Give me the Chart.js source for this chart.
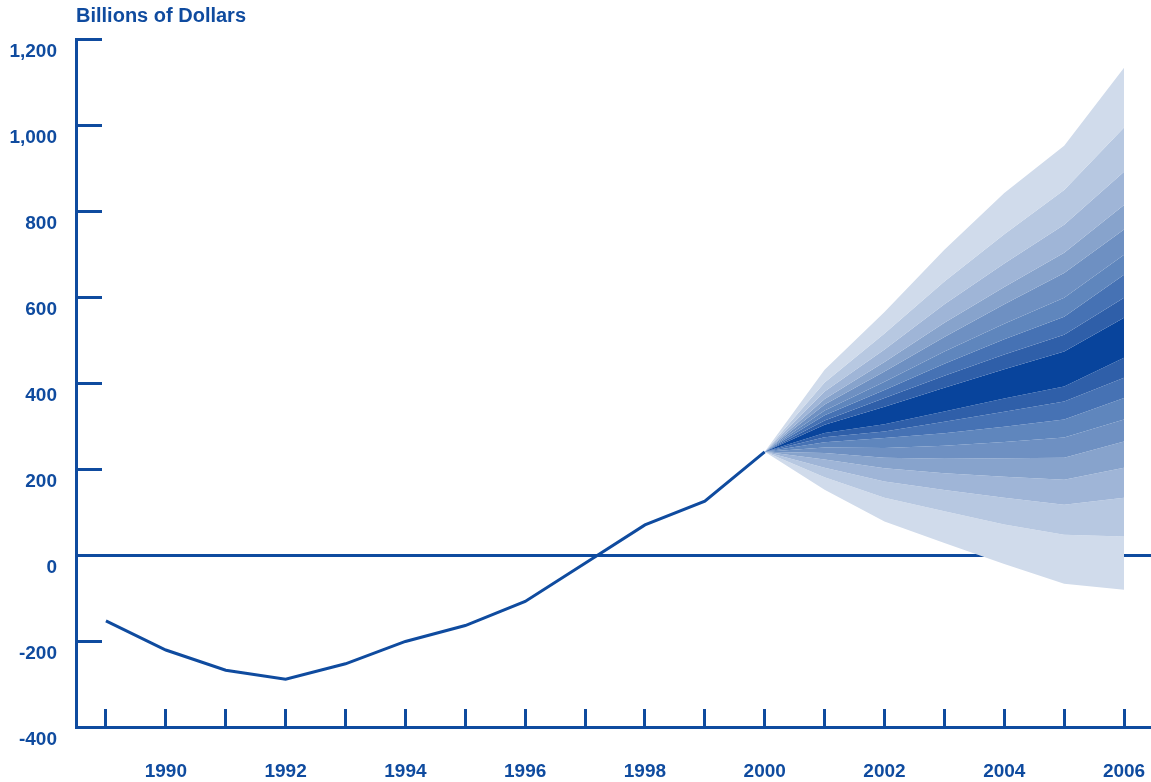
<!DOCTYPE html>
<html><head><meta charset="utf-8">
<script src="https://cdn.jsdelivr.net/npm/chart.js@4/dist/chart.umd.min.js"></script>
<style>html,body{margin:0;padding:0;background:#fff}#wrap{width:1151px;height:782px;position:relative}</style>
</head><body><div id="wrap"><canvas id="c"></canvas></div>
<script>
// ---- data ----
const histYears  = [1989, 1990, 1991, 1992, 1993, 1994, 1995, 1996, 1997, 1998, 1999, 2000];
const histValues = [-153, -221, -268, -289, -253, -201, -164, -108, -19, 70, 125, 240];

const fanYears = [2000, 2001, 2002, 2003, 2004, 2005, 2006];
const upper8 = [240, 431, 565, 710, 842, 952, 1133];
const upper7 = [240, 401, 515, 636, 746, 849, 994];
const upper6 = [240, 380, 478, 583, 678, 768, 891];
const upper5 = [240, 363, 449, 540, 623, 703, 814];
const upper4 = [240, 350, 427, 507, 583, 656, 757];
const upper3 = [240, 336, 403, 473, 538, 598, 698];
const upper2 = [240, 325, 384, 445, 502, 554, 652];
const upper1 = [240, 313, 365, 417, 466, 512, 598];
const centerTop    = [240, 303, 345, 389, 432, 473, 552];
const centerBottom = [240, 284, 304, 334, 364, 392, 459];
const lower1 = [240, 274, 287, 310, 333, 357, 412];
const lower2 = [240, 262, 272, 283, 298, 315, 365];
const lower3 = [240, 250, 249, 254, 263, 273, 315];
const lower4 = [240, 237, 226, 224, 225, 226, 264];
const lower5 = [240, 222, 202, 190, 182, 175, 203];
const lower6 = [240, 203, 171, 151, 133, 117, 133];
const lower7 = [240, 181, 133, 102, 71, 47, 43];
const lower8 = [240, 152, 78, 28, -21, -67, -81];

const xTickYears = [1989,1990,1991,1992,1993,1994,1995,1996,1997,1998,1999,2000,2001,2002,2003,2004,2005,2006];
const yTickValues = [-400, -200, 0, 200, 400, 600, 800, 1000, 1200];

// ---- styles ----
const BLUE = '#0f4b9f';
const FONT = "'Liberation Sans', Arial, sans-serif";
const shades = ['#d0dbeb','#b7c8e1','#9fb5d7','#87a3cc','#6e90c2','#5f86bd','#4672b4','#2f5fa9','#08449c'];

const boundaries = [upper8, upper7, upper6, upper5, upper4, upper3, upper2, upper1,
                    centerTop, centerBottom,
                    lower1, lower2, lower3, lower4, lower5, lower6, lower7, lower8];
const bandShade = [null, 0, 1, 2, 3, 4, 5, 6, 7, 8, 7, 6, 5, 4, 3, 2, 1, 0];

const datasets = boundaries.map((b, i) => ({
  data: fanYears.map((x, j) => ({x, y: b[j]})),
  borderWidth: 0,
  borderColor: 'rgba(0,0,0,0)',
  pointRadius: 0,
  tension: 0,
  fill: i === 0 ? false : '-1',
  backgroundColor: i === 0 ? 'rgba(0,0,0,0)' : shades[bandShade[i]],
  order: 2
}));
datasets.push({
  data: histYears.map((x, i) => ({x, y: histValues[i]})),
  borderColor: BLUE,
  borderWidth: 3,
  pointRadius: 0,
  tension: 0,
  fill: false,
  order: 1
});

const tickFont = {family: FONT, size: 19, weight: 'bold'};
const noPad = s => { s.paddingLeft = 0; s.paddingRight = 0; s.paddingTop = 0; s.paddingBottom = 0; };

new Chart(document.getElementById('c'), {
  type: 'line',
  data: {datasets},
  options: {
    responsive: true,
    maintainAspectRatio: false,
    animation: false,
    devicePixelRatio: 1,
    layout: {padding: {left: 0, right: 0, top: 0, bottom: 0}},
    plugins: {
      legend: {display: false},
      tooltip: {enabled: false},
      title: {
        display: true, text: 'Billions of Dollars', align: 'start', fullSize: false,
        color: BLUE, font: {family: FONT, size: 20, weight: 'bold'},
        padding: {top: 4, bottom: 11}
      }
    },
    scales: {
      x: {
        type: 'linear', min: 1988.5, max: 2006.45,
        afterBuildTicks: s => { s.ticks = xTickYears.map(v => ({value: v})); },
        afterFit: s => { s.height = 55; noPad(s); },
        ticks: {
          autoSkip: false, maxRotation: 0, minRotation: 0, padding: 51,
          color: BLUE, font: tickFont,
          callback: v => (v % 2 === 0 ? String(v) : '')
        },
        grid: {drawOnChartArea: false, drawTicks: true, tickLength: -18, lineWidth: 3, color: BLUE, tickColor: BLUE},
        border: {display: true, color: BLUE, width: 3}
      },
      y: {
        type: 'linear', min: -400, max: 1200, z: 1,
        afterBuildTicks: s => { s.ticks = yTickValues.map(v => ({value: v})); },
        afterFit: s => { s.width = 76; noPad(s); },
        ticks: {
          padding: 45, labelOffset: 13, color: BLUE, font: tickFont,
          callback: v => v.toLocaleString('en-US')
        },
        grid: {
          drawOnChartArea: true, drawTicks: true, tickLength: -26, lineWidth: 3,
          color: ctx => (ctx.tick && ctx.tick.value === 0 ? BLUE : 'rgba(0,0,0,0)'),
          tickColor: BLUE
        },
        border: {display: true, color: BLUE, width: 3}
      }
    }
  }
});
</script>
</body></html>
